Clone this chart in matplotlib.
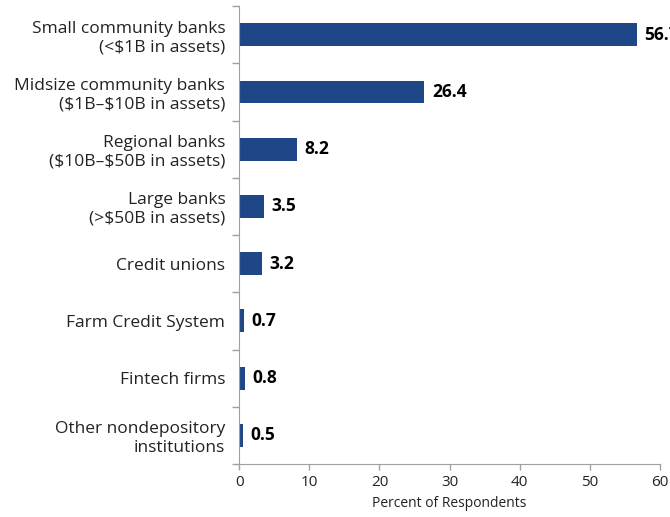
import matplotlib.pyplot as plt
import numpy as np

categories = ["Small community banks\n(<\\$1B in assets)",
              "Midsize community banks\n(\\$1B\u2013\\$10B in assets)",
              "Regional banks\n(\\$10B\u2013\\$50B in assets)",
              "Large banks\n(>\\$50B in assets)",
              "Credit unions",
              "Farm Credit System",
              "Fintech firms",
              "Other nondepository\ninstitutions"]
values = [56.7, 26.4, 8.2, 3.5, 3.2, 0.7, 0.8, 0.5]
xticks = [0, 10, 20, 30, 40, 50, 60]

plt.rcParams['font.family'] = ['Open Sans', 'DejaVu Sans']

fig = plt.figure(figsize=(6.7, 5.17), dpi=100)
ax = fig.add_axes([0.357, 0.1025, 0.628, 0.8855])

ypos = np.arange(len(categories))
bar_color = '#1f4788'
ax.barh(ypos, values, height=0.4, color=bar_color)

# value labels; the top one runs off the right edge like the original
for y, v in zip(ypos, values):
    ax.text(v + 1.1, y, f"{v:.1f}", va='center', ha='left',
            fontsize=12.5, fontweight='bold', color='black', clip_on=False)

ax.set_ylim(len(categories) - 0.5, -0.5)
ax.set_xlim(0, 60)
ax.set_xticks(xticks)
ax.set_xticklabels([str(t) for t in xticks], fontsize=11, color='#222222')

ax.set_yticks(ypos)
ax.set_yticklabels(categories, fontsize=12.5, color='#222222', linespacing=1.2)
ax.tick_params(axis='y', which='major', length=0, pad=10)
ax.set_yticks(np.arange(-0.5, len(categories), 1.0), minor=True)
ax.tick_params(axis='y', which='minor', length=5, color='#a0a0a0', width=1)
ax.tick_params(axis='x', length=4, color='#a0a0a0', width=1, pad=4)

for side in ['top', 'right']:
    ax.spines[side].set_visible(False)
for side in ['left', 'bottom']:
    ax.spines[side].set_color('#a0a0a0')

ax.set_xlabel("Percent of Respondents", fontsize=10, color='#222222', labelpad=4)

plt.savefig("out.png", dpi=100)
